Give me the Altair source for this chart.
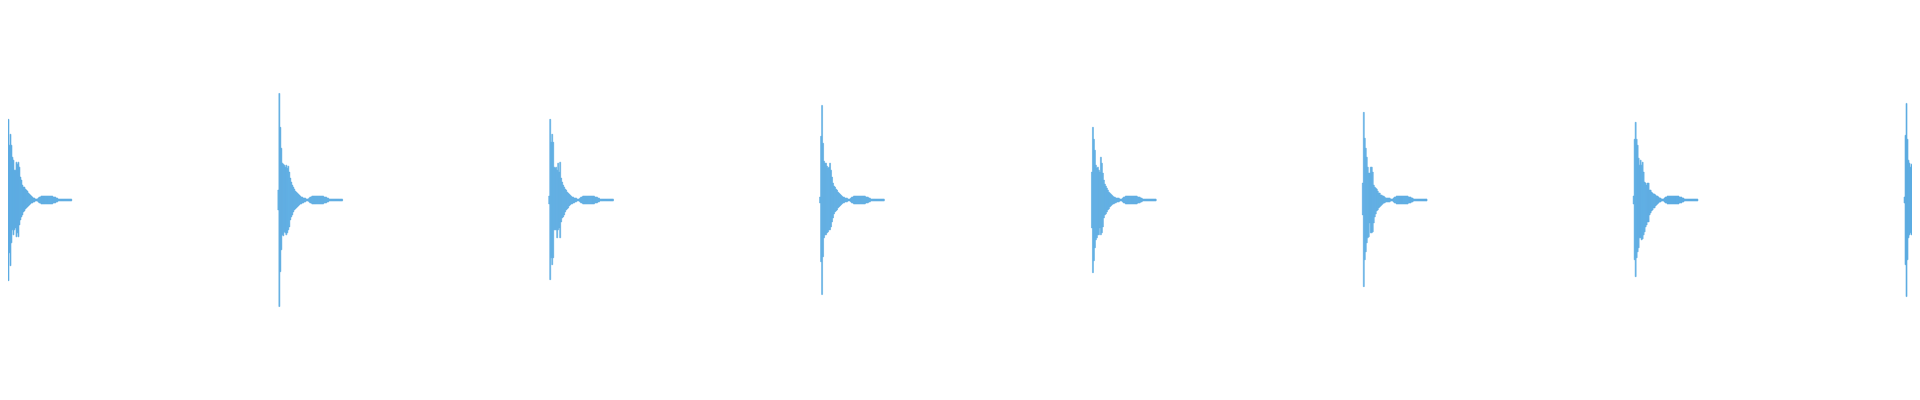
import altair as alt
import pandas as pd

# onset column of each hit (time axis, in sample-columns)
hit_starts = [-1, 271, 543, 815, 1088, 1360, 1632, 1904]

# per-column envelope of each hit's attack (k = 0..25): upper and lower amplitude
head_top = [
    [10, 81, 55, 66, 55, 43, 40, 30, 30, 38, 36, 38, 33, 23, 20, 15, 13, 13, 11, 10, 9, 7, 6, 5, 4, 3],
    [10, 107, 73, 52, 37, 36, 35, 33, 35, 32, 34, 28, 22, 18, 15, 13, 11, 9, 8, 7, 6, 5, 4, 3, 3, 2],
    [4, 81, 58, 66, 58, 33, 32, 33, 30, 37, 28, 38, 22, 18, 15, 13, 11, 10, 8, 7, 6, 5, 4, 3, 3, 2],
    [3, 64, 95, 57, 39, 37, 37, 34, 32, 33, 37, 30, 23, 17, 14, 13, 11, 10, 8, 7, 6, 5, 4, 3, 3, 2],
    [28, 73, 61, 50, 35, 32, 33, 30, 28, 43, 37, 27, 20, 16, 14, 12, 10, 8, 7, 6, 5, 4, 3, 3, 2, 2],
    [17, 88, 62, 52, 43, 33, 27, 27, 33, 33, 28, 15, 13, 12, 11, 9, 7, 7, 5, 5, 4, 4, 3, 2, 2, 2],
    [4, 61, 78, 61, 55, 42, 35, 40, 35, 38, 28, 18, 17, 15, 17, 17, 10, 10, 8, 7, 6, 6, 5, 4, 4, 3],
    [3, 65, 97, 61, 40, 37, 33, 36, 34, 25, 25, 33, 28, 13, 13, 12],
]
head_bot = [
    [10, 81, 53, 66, 43, 30, 35, 30, 28, 37, 33, 37, 25, 20, 17, 15, 12, 11, 9, 8, 7, 6, 5, 4, 3, 3],
    [10, 107, 72, 50, 35, 36, 32, 33, 35, 33, 30, 27, 20, 17, 15, 12, 10, 9, 8, 7, 6, 5, 4, 4, 3, 3],
    [4, 80, 58, 65, 58, 30, 30, 30, 38, 30, 28, 38, 22, 18, 17, 15, 12, 10, 9, 8, 6, 5, 4, 4, 3, 3],
    [3, 62, 95, 57, 38, 35, 35, 33, 32, 30, 30, 27, 22, 18, 14, 12, 11, 10, 8, 7, 6, 5, 4, 3, 3, 2],
    [28, 73, 61, 48, 40, 38, 35, 35, 28, 35, 33, 27, 18, 15, 14, 12, 10, 9, 7, 6, 5, 4, 4, 3, 3, 2],
    [15, 87, 60, 52, 43, 38, 37, 23, 33, 33, 32, 23, 17, 14, 11, 10, 8, 7, 6, 5, 4, 3, 3, 2, 2, 2],
    [4, 60, 77, 58, 52, 48, 38, 38, 40, 39, 35, 32, 27, 25, 22, 22, 15, 13, 11, 10, 8, 8, 6, 5, 4, 3],
    [3, 65, 97, 60, 38, 35, 33, 35, 35, 27, 27, 23, 23, 13, 12, 12],
]

# ring-out envelope after the attack (k = 26..64): neck, resonant swell, thin tail
tail_top = [2, 2, 1, 1, 1, 2, 3, 3, 4, 4, 4, 4, 4, 4, 4, 4, 4, 4, 4, 4, 3, 3, 3, 2, 2,
            1, 1, 1, 1, 1, 1, 1, 1, 1, 1, 1, 1, 1, 1]
tail_bot = [2, 2, 1, 1, 1, 2, 3, 3, 4, 4, 4, 4, 4, 4, 4, 4, 4, 4, 4, 4, 3, 3, 3, 2, 2,
            1, 1, 1, 1, 1, 1, 1, 1, 1, 1, 1, 1, 1, 1]

rows = []
for h, start in enumerate(hit_starts):
    tops = list(head_top[h])
    bots = list(head_bot[h])
    if len(tops) == 26:
        tops += tail_top
        bots += tail_bot
    for k, (t, b) in enumerate(zip(tops, bots)):
        rows.append({"x0": start + k, "x1": start + k + 1, "hi": t, "lo": -b})
df = pd.DataFrame(rows)

chart = (
    alt.Chart(df)
    .mark_rect(color="#5DADE2", fill="#5DADE2", stroke="#5DADE2",
               strokeWidth=0.6, opacity=1, clip=True)
    .encode(
        x=alt.X("x0:Q", scale=alt.Scale(domain=[0, 1912], nice=False, zero=False), axis=None),
        x2="x1:Q",
        y=alt.Y("hi:Q", scale=alt.Scale(domain=[-192, 192], nice=False, zero=False), axis=None),
        y2="lo:Q",
    )
    .properties(width=1912, height=384, padding=0,
                autosize=alt.AutoSizeParams(type="none"), background="white")
    .configure_view(stroke=None)
)

chart.save("out.html", embed_options={"renderer": "svg", "actions": False})
